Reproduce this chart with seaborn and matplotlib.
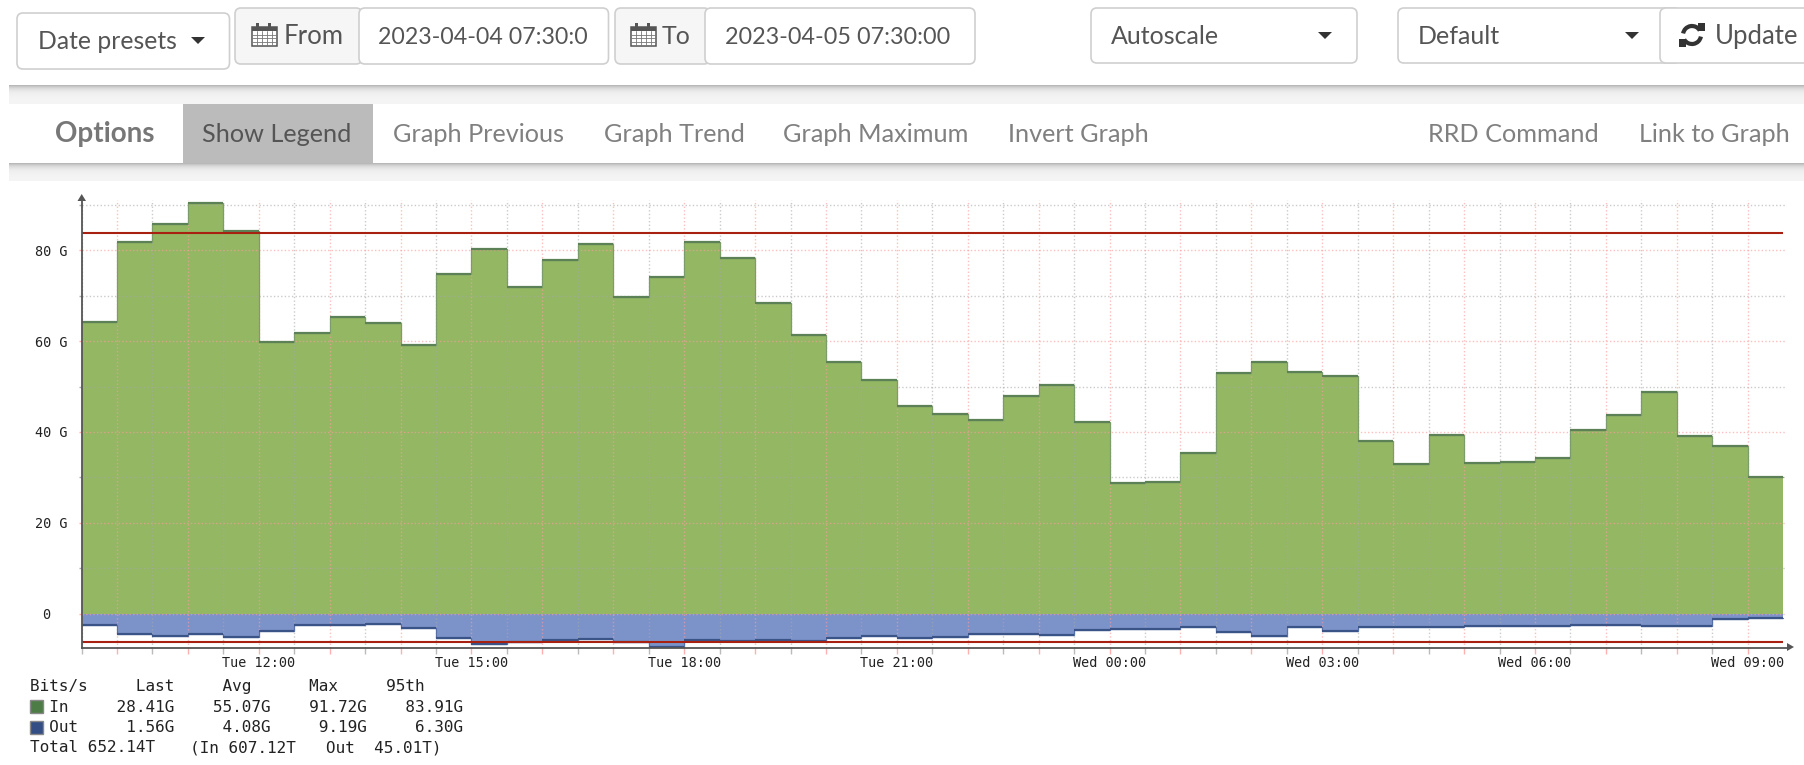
import numpy as np
import pandas as pd
import matplotlib
matplotlib.use('Agg')
import matplotlib.pyplot as plt
import seaborn as sns
from matplotlib.patches import FancyBboxPatch, Rectangle, Polygon, Arc

# values, one per 30 min step (Gbit/s)
in_values = [64.3, 81.8, 85.8, 90.4, 84.2, 59.8, 61.7, 65.2, 63.9, 59.2, 74.8, 80.3,
             71.9, 77.9, 81.4, 69.8, 74.1, 81.8, 78.3, 68.3, 61.4, 55.3, 51.5, 45.7,
             44.0, 42.6, 48.0, 50.4, 42.2, 28.7, 28.9, 35.4, 52.9, 55.4, 53.3, 52.3,
             37.9, 33.0, 39.4, 33.1, 33.4, 34.3, 40.4, 43.8, 48.7, 39.1, 37.0, 30.0]
out_values = [2.64, 4.48, 4.85, 4.48, 5.14, 3.82, 2.57, 2.57, 2.35, 3.23, 5.36, 6.68,
              6.24, 5.80, 5.65, 6.24, 7.40, 5.80, 6.10, 5.80, 6.10, 5.43, 4.92, 5.36,
              5.14, 4.48, 4.48, 4.77, 3.67, 3.38, 3.52, 3.00, 4.18, 5.00, 2.94, 3.82,
              3.08, 3.08, 3.00, 2.86, 2.72, 2.86, 2.57, 2.57, 2.80, 2.80, 1.25, 0.90]
pct95_in = 83.91
pct95_out = 6.30

x_labels = ['Tue 12:00', 'Tue 15:00', 'Tue 18:00', 'Tue 21:00',
            'Wed 00:00', 'Wed 03:00', 'Wed 06:00', 'Wed 09:00']
y_labels = ['0  ', '20 G', '40 G', '60 G', '80 G']

legend_cols = ['Last', 'Avg', 'Max', '95th']
legend_in = ['28.41G', '55.07G', '91.72G', '83.91G']
legend_out = ['1.56G', '4.08G', '9.19G', '6.30G']
legend_total = ['Total 652.14T', '(In 607.12T', 'Out  45.01T)']

GREEN = '#93b763'
GREEN_LINE = '#5c8157'
BLUE = '#7c93ca'
BLUE_LINE = '#3a5488'
RED = '#a8200f'
UI_FONT = 'Lato'
MONO = 'DejaVu Sans Mono'

sns.set_style('white')
W, H = 1804, 765
fig = plt.figure(figsize=(W / 100, H / 100), dpi=100, facecolor='white')

# page furniture, drawn in pixel coordinates
ui = fig.add_axes([0, 0, 1, 1], zorder=0)
ui.set_xlim(0, W)
ui.set_ylim(H, 0)
ui.axis('off')


def box(x0, y0, x1, y1, fc='white', ec='#cfcfcf', r=6):
    ui.add_patch(FancyBboxPatch((x0, y0), x1 - x0, y1 - y0, boxstyle=f'round,pad=0,rounding_size={r}',
                                fc=fc, ec=ec, lw=1.2))


def label(x, y, s, size=18, color='#555555', **kw):
    ui.text(x, y, s, fontsize=size, color=color, family=UI_FONT, va='center', **kw)


def caret(x, y):
    ui.add_patch(Polygon([(x - 7, y - 3), (x + 7, y - 3), (x, y + 4)], fc='#333333', ec='none'))


def calendar(x0, y0):
    ui.add_patch(Rectangle((x0, y0 + 4), 25, 19, fc='white', ec='#555555', lw=1.1))
    ui.add_patch(Rectangle((x0, y0 + 4), 25, 4, fc='#555555', ec='none'))
    for dx in (6, 18):
        ui.add_patch(Rectangle((x0 + dx - 2, y0), 3, 6, fc='#555555', ec='none'))
    for dx in (5, 10, 15, 20):
        ui.plot([x0 + dx, x0 + dx], [y0 + 8, y0 + 23], color='#777777', lw=0.6)
    for dy in (12, 15, 19):
        ui.plot([x0, x0 + 25], [y0 + dy, y0 + dy], color='#777777', lw=0.6)


def shadow(y0, y1):
    levels = 0.96 - 0.24 * np.exp(-np.arange(y1 - y0) / 3.5)
    for i, lev in enumerate(levels):
        ui.add_patch(Rectangle((9, y0 + i), W - 9, 1.2, fc=str(lev), ec='none'))


shadow(85, 104)
shadow(163, 181)
ui.add_patch(Rectangle((182.5, 104), 190.5, 58.5, fc='#bbbbbb', ec='none'))

# top row of controls
box(17, 13, 229.5, 69)
label(38, 41, 'Date presets', size=17.8)
caret(198, 40)
box(235, 8, 362, 64, fc='#f6f6f6')
calendar(252, 23)
label(284, 36, 'From', size=18.5)
box(359, 8, 608.5, 64)
label(378, 37, '2023-04-04 07:30:0', size=16.7)
box(615, 8, 710, 64, fc='#f6f6f6')
calendar(631, 23)
label(662, 36, 'To', size=18)
box(705, 8, 975, 64)
label(725, 37, '2023-04-05 07:30:00', size=16.8)
box(1091, 8, 1357, 63)
label(1111, 36, 'Autoscale')
caret(1325, 35)
box(1398, 8, 1680, 63)
label(1418, 36, 'Default')
caret(1632, 35)
box(1660, 8, 1830, 63)
label(1715, 36, 'Update', size=18.5)
ui.add_patch(Arc((1692, 35), 18, 18, theta1=190, theta2=330, ec='#333333', lw=3))
ui.add_patch(Arc((1692, 35), 18, 18, theta1=10, theta2=150, ec='#333333', lw=3))
ui.add_patch(Polygon([(1698, 23), (1705, 23), (1705, 31), (1698, 31)], fc='#333333', ec='none'))
ui.add_patch(Polygon([(1679, 39), (1686, 39), (1686, 47), (1679, 47)], fc='#333333', ec='none'))

# options bar
label(55, 134, 'Options', size=20, color='#777777', fontweight='bold')
label(202, 134, 'Show Legend', size=18.2, color='#555555')
for tx, s in [(393, 'Graph Previous'), (604, 'Graph Trend'), (783, 'Graph Maximum'),
              (1008, 'Invert Graph'), (1428, 'RRD Command'), (1639, 'Link to Graph')]:
    label(tx, 134, s, size=18.2, color='#808080')

# legend under the graph
header = 'Bits/s     {}     {}      {}     {}'.format(*legend_cols)
rows = [(30, 687, header), (30, 707, '  In     {}    {}    {}    {}'.format(*legend_in)),
        (30, 728, '  Out     {}     {}     {}     {}'.format(*legend_out)),
        (30, 748, legend_total[0]), (190, 748, legend_total[1]), (326.5, 748, legend_total[2])]
for tx, ty, s in rows:
    ui.text(tx, ty, s, family=MONO, fontsize=11.5, color='#222222', va='center')
ui.add_patch(Rectangle((29.5, 700), 13.5, 12.5, fc='#4d7c46', ec='#888888', lw=1))
ui.add_patch(Rectangle((29.5, 721), 13.5, 12.5, fc='#334d85', ec='#888888', lw=1))

# axis arrow heads
ui.add_patch(Polygon([(77.5, 201), (86, 201), (81.7, 194)], fc='#555555', ec='none'))
ui.add_patch(Polygon([(1787, 643), (1787, 651), (1794, 647)], fc='#555555', ec='none'))

# the graph itself
px_left, px_right, px_top, px_bottom = 81.5, 1787, 200, 648
ax = fig.add_axes([px_left / W, 1 - px_bottom / H, (px_right - px_left) / W, (px_bottom - px_top) / H], zorder=1)
ax.patch.set_visible(False)

hours = np.arange(9.5, 34, 0.5)
df = pd.DataFrame({'hour': hours,
                   'in': in_values + in_values[-1:],
                   'out': [-v for v in out_values] + [-out_values[-1]]})

ax.fill_between(df['hour'], df['in'], 0, step='post', color=GREEN, lw=0)
ax.fill_between(df['hour'], df['out'], 0, step='post', color=BLUE, lw=0)
# thin risers, heavier treads like the rrd output
sns.lineplot(data=df, x='hour', y='in', ax=ax, drawstyle='steps-post', color='#7d9c6c', lw=0.9, zorder=3)
sns.lineplot(data=df, x='hour', y='out', ax=ax, drawstyle='steps-post', color='#566fa6', lw=0.9, zorder=3)
ax.hlines(df['in'][:-1], hours[:-1], hours[1:], color=GREEN_LINE, lw=1.6, zorder=3)
ax.hlines(df['out'][:-1], hours[:-1], hours[1:], color=BLUE_LINE, lw=1.6, zorder=3)
ax.hlines([pct95_in, -pct95_out], hours[0], hours[-1], color=RED, lw=1.5, zorder=4)

ax.set_xlim(9.5, 9.5 + (px_right - px_left) / 70.9)
ax.set_ylim(-(px_bottom - 613.5) / 4.54, (613.5 - px_top) / 4.54)

ax.set_xticks(np.arange(10, 34, 1.0))
ax.set_xticks(np.arange(9.5, 33, 1.0), minor=True)
ax.set_xticklabels([x_labels[(h - 12) // 3] if h >= 12 and h % 3 == 0 else '' for h in range(10, 34)],
                   family=MONO, fontsize=9.75, color='#222222')
ax.set_yticks([0, 20, 40, 60, 80])
ax.set_yticks([10, 30, 50, 70, 90], minor=True)
ax.set_yticklabels(y_labels, family=MONO, fontsize=9.75, color='#222222')

ax.set_axisbelow(False)
dots = (0, (1, 1.6))
ax.grid(True, which='major', color='#ff9c9c', alpha=0.65, lw=1, ls=dots)
ax.grid(True, which='minor', color='#a8a8a8', alpha=0.6, lw=1, ls=dots)
ax.tick_params(axis='x', which='major', length=4, width=1, color='#ffb0b0', pad=1.5, bottom=True)
ax.tick_params(axis='x', which='minor', length=4, width=1, color='#bbbbbb', bottom=True)
ax.tick_params(axis='y', which='major', length=2, width=1, color='#ffb0b0', pad=8, left=True)
ax.tick_params(axis='y', which='minor', length=2, width=1, color='#aaaaaa', left=True)
ax.set_xlabel('')
ax.set_ylabel('')

sns.despine(ax=ax)
for side in ('left', 'bottom'):
    ax.spines[side].set_color('#555555')
    ax.spines[side].set_linewidth(1.3)
    ax.spines[side].set_zorder(5)

fig.savefig('out.png', dpi=100)
